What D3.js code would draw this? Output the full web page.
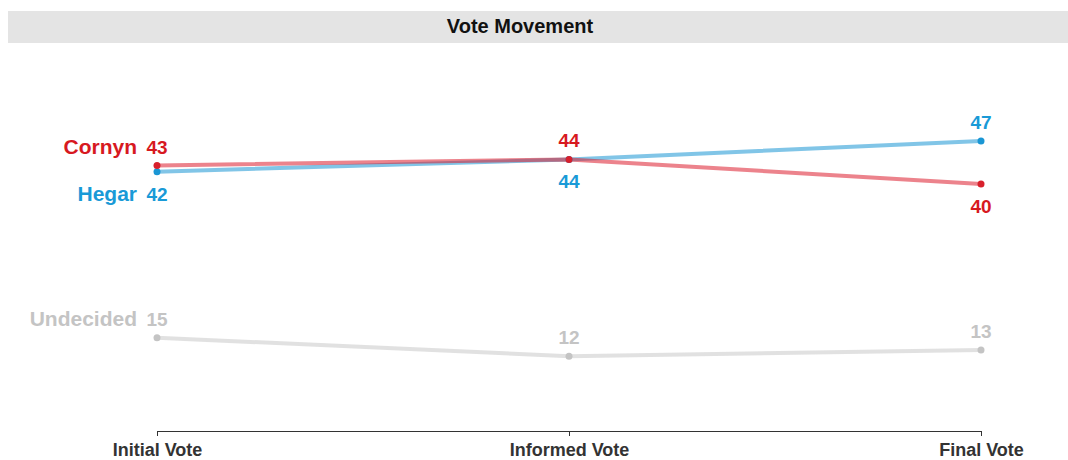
<!DOCTYPE html>
<html>
<head>
<meta charset="utf-8">
<script src="https://cdn.jsdelivr.net/npm/d3@7"></script>
<style>
  body { margin: 0; background: #fff; }
  svg { display: block; font-family: "Liberation Sans", Arial, sans-serif; }
</style>
</head>
<body>
<script>
// data
var stages = ["Initial Vote", "Informed Vote", "Final Vote"];
var cornyn = [43, 44, 40];
var hegar = [42, 44, 47];
var undecided = [15, 12, 13];
var seriesNames = ["Cornyn", "Hegar", "Undecided"];

var width = 1068, height = 460;

var svg = d3.select("body").append("svg")
  .attr("width", width)
  .attr("height", height);

// title bar
svg.append("rect")
  .attr("x", 8).attr("y", 11)
  .attr("width", 1060).attr("height", 32)
  .attr("fill", "#e4e4e4");
svg.append("text")
  .attr("x", 520).attr("y", 33)
  .attr("text-anchor", "middle")
  .attr("font-size", "20px").attr("font-weight", "bold")
  .attr("fill", "#111")
  .text("Vote Movement");

var x = d3.scalePoint().domain(stages).range([157, 981]);
var y = d3.scaleLinear().domain([0, 50]).range([430, 122.5]);

// x axis
var axis = svg.append("g")
  .attr("transform", "translate(0,431)")
  .call(d3.axisBottom(x).tickSize(5).tickSizeOuter(0).tickPadding(7));
axis.select(".domain").attr("stroke", "#333");
axis.selectAll(".tick line").attr("stroke", "#333");
axis.selectAll(".tick text")
  .attr("font-family", "Liberation Sans, Arial, sans-serif")
  .attr("font-size", "18px").attr("font-weight", "bold")
  .attr("fill", "#333");

var series = [
  { name: seriesNames[2], values: undecided, line: "#c9c9c9", dot: "#c4c4c4", text: "#c4c4c4" },
  { name: seriesNames[1], values: hegar, line: "#1a96d4", dot: "#1a96d4", text: "#199ad7" },
  { name: seriesNames[0], values: cornyn, line: "#dc1e2d", dot: "#d8202c", text: "#d7191f" }
];

// above or below each point: higher candidate gets the label above
function above(s, i) {
  if (s.name === "Undecided") return true;
  var other = s.name === "Cornyn" ? hegar : cornyn;
  if (s.values[i] === other[i]) return s.name === "Cornyn";
  return s.values[i] > other[i];
}

var line = d3.line()
  .x(function (d, i) { return x(stages[i]); })
  .y(function (d) { return y(d); });

series.forEach(function (s) {
  svg.append("path")
    .datum(s.values)
    .attr("d", line)
    .attr("fill", "none")
    .attr("stroke", s.line)
    .attr("stroke-opacity", 0.55)
    .attr("stroke-width", 4);
});

series.forEach(function (s) {
  svg.selectAll(null).data(s.values).enter().append("circle")
    .attr("cx", function (d, i) { return x(stages[i]); })
    .attr("cy", function (d) { return y(d); })
    .attr("r", 3.5)
    .attr("fill", s.dot);
});

series.forEach(function (s) {
  svg.selectAll(null).data(s.values).enter().append("text")
    .attr("x", function (d, i) { return x(stages[i]); })
    .attr("y", function (d, i) { return y(d) + (above(s, i) ? -12 : 29); })
    .attr("text-anchor", "middle")
    .attr("font-size", "19px").attr("font-weight", "bold")
    .attr("fill", s.text)
    .text(function (d) { return d; });

  // series name at left, on the first label's baseline
  svg.append("text")
    .attr("x", 137)
    .attr("y", y(s.values[0]) + (above(s, 0) ? -12 : 29))
    .attr("text-anchor", "end")
    .attr("font-size", "21px").attr("font-weight", "bold")
    .attr("fill", s.text)
    .text(s.name);
});
</script>
</body>
</html>
